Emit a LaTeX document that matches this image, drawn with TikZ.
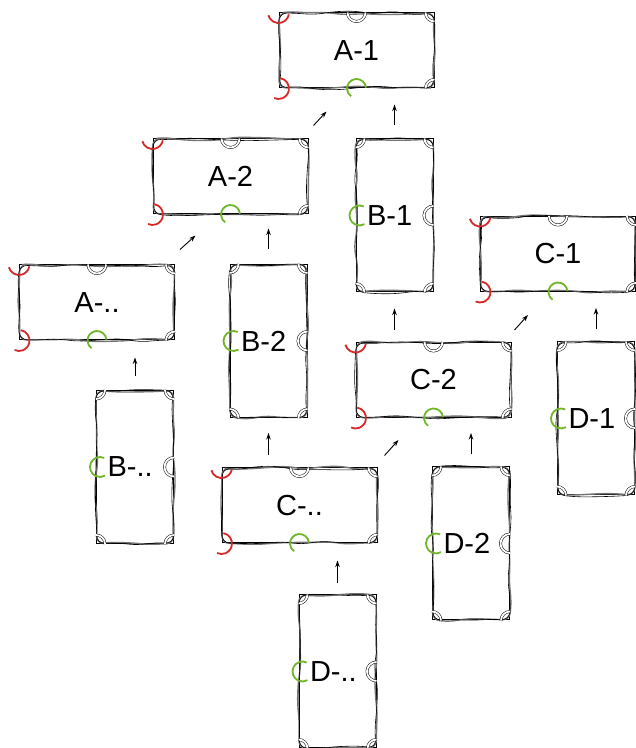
\documentclass[tikz,border=0pt]{standalone}
\usepackage{fontspec}
\setmainfont{Liberation Sans}
\usetikzlibrary{arrows.meta}
\usetikzlibrary{decorations.pathmorphing}
\definecolor{pinred}{RGB}{214,40,40}
\definecolor{pingreen}{RGB}{112,182,40}

\begin{document}
\begin{tikzpicture}[x=1pt, y=1pt, font=\fontsize{29}{34}\selectfont]
  \tikzstyle{piece}=[draw=black, line width=1pt, fill=white, inner sep=0pt,
    postaction={draw=black!55, fill=none, line width=1.4pt, rounded corners=7pt, decorate,
      decoration={random steps, segment length=18pt, amplitude=1.8pt}},
    postaction={draw=black, fill=none, line width=0.6pt, rounded corners=8pt, decorate,
      decoration={random steps, segment length=20pt, amplitude=2pt}}]
  \tikzstyle{wide}=[piece, minimum width=155pt, minimum height=75pt, text centered]
  \tikzstyle{tall}=[piece, minimum width=77pt, minimum height=153pt, inner xsep=11pt, text width=55pt, align=left]
  \tikzstyle{hole}=[draw=black, line width=0.5pt, double=white, double distance=1.8pt]
  \tikzstyle{redpin}=[draw=pinred, line width=1.8pt]
  \tikzstyle{greenpin}=[draw=pingreen, line width=1.8pt]
  \tikzstyle{flow}=[-{Stealth[length=6.5pt, width=4.5pt]}, line width=0.9pt]
  \pgfmathsetseed{7}
  \useasboundingbox (0,0) rectangle (636,748);

  \node (a1) [wide] at (356.5,697.5) {A-1};
  \node (a2) [wide] at (230.5,571.5) {A-2};
  \node (an) [wide] at (97,445.5) {A-..};
  \node (b1) [tall] at (394.5,532.5) {B-1};
  \node (b2) [tall] at (268.5,407) {B-2};
  \node (bn) [tall] at (135,281) {B-..};
  \node (c1) [wide] at (558,494) {C-1};
  \node (c2) [wide] at (433.5,368) {C-2};
  \node (cn) [wide] at (299.5,242.5) {C-..};
  \node (d1) [tall] at (596,329.5) {D-1};
  \node (d2) [tall] at (471,204.5) {D-2};
  \node (dn) [tall] at (337.5,76.5) {D-..};

  % pins of the wide pieces
  \foreach \n in {a1,a2,an,c1,c2,cn} {
    \draw[hole] ([xshift=9pt]\n.north) arc (0:-180:9pt);
    \draw[hole] ([xshift=-9pt]\n.north east) arc (180:270:9pt);
    \draw[hole] ([yshift=9pt]\n.south east) arc (90:180:9pt);
    \draw[redpin] (\n.north west) ++(195:10.5pt) arc (195:350:10.5pt);
    \draw[redpin] (\n.south west) ++(80:10.5pt) arc (80:-115:10.5pt);
    \draw[greenpin] (\n.south) ++(5:9.5pt) arc (5:235:9.5pt);
  }
  % pins of the tall pieces
  \foreach \n in {b1,b2,bn,d1,d2,dn} {
    \draw[hole] ([xshift=9pt]\n.north west) arc (0:-90:9pt);
    \draw[hole] ([xshift=-9pt]\n.north east) arc (180:270:9pt);
    \draw[hole] ([yshift=9pt]\n.south east) arc (90:180:9pt);
    \draw[hole] ([xshift=9pt]\n.south west) arc (0:90:9pt);
    \draw[hole] ([yshift=9.5pt]\n.east) arc (90:270:9.5pt);
    \draw[greenpin] ([xshift=4pt]\n.west) ++(65:10pt) arc (65:300:10pt);
  }

  \draw[flow] ([xshift=5pt,yshift=13pt]a2.north east) -- ([xshift=48pt,yshift=-23pt]a1.south west);
  \draw[flow, shorten <=13pt, shorten >=16pt] (b1.north) -- (b1.north |- a1.south);
  \draw[flow] ([xshift=5pt,yshift=15pt]an.north east) -- ([xshift=43pt,yshift=-21pt]a2.south west);
  \draw[flow, shorten <=15pt, shorten >=14pt] (b2.north) -- (b2.north |- a2.south);
  \draw[flow, shorten <=14pt, shorten >=17pt] (bn.north) -- (bn.north |- an.south);
  \draw[flow, shorten <=12pt, shorten >=16pt] (b1.south |- c2.north) -- (b1.south);
  \draw[flow] ([xshift=3pt,yshift=12pt]c2.north east) -- ([xshift=48pt,yshift=-23pt]c1.south west);
  \draw[flow, shorten <=12pt, shorten >=16pt] (d1.north) -- (d1.north |- c1.south);
  \draw[flow] ([xshift=7pt,yshift=12pt]cn.north east) -- ([xshift=43pt,yshift=-22pt]c2.south west);
  \draw[flow, shorten <=12pt, shorten >=15pt] (b2.south |- cn.north) -- (b2.south);
  \draw[flow, shorten <=12pt, shorten >=15pt] (d2.north) -- (d2.north |- c2.south);
  \draw[flow, shorten <=11pt, shorten >=17pt] (dn.north) -- (dn.north |- cn.south);
\end{tikzpicture}
\end{document}
